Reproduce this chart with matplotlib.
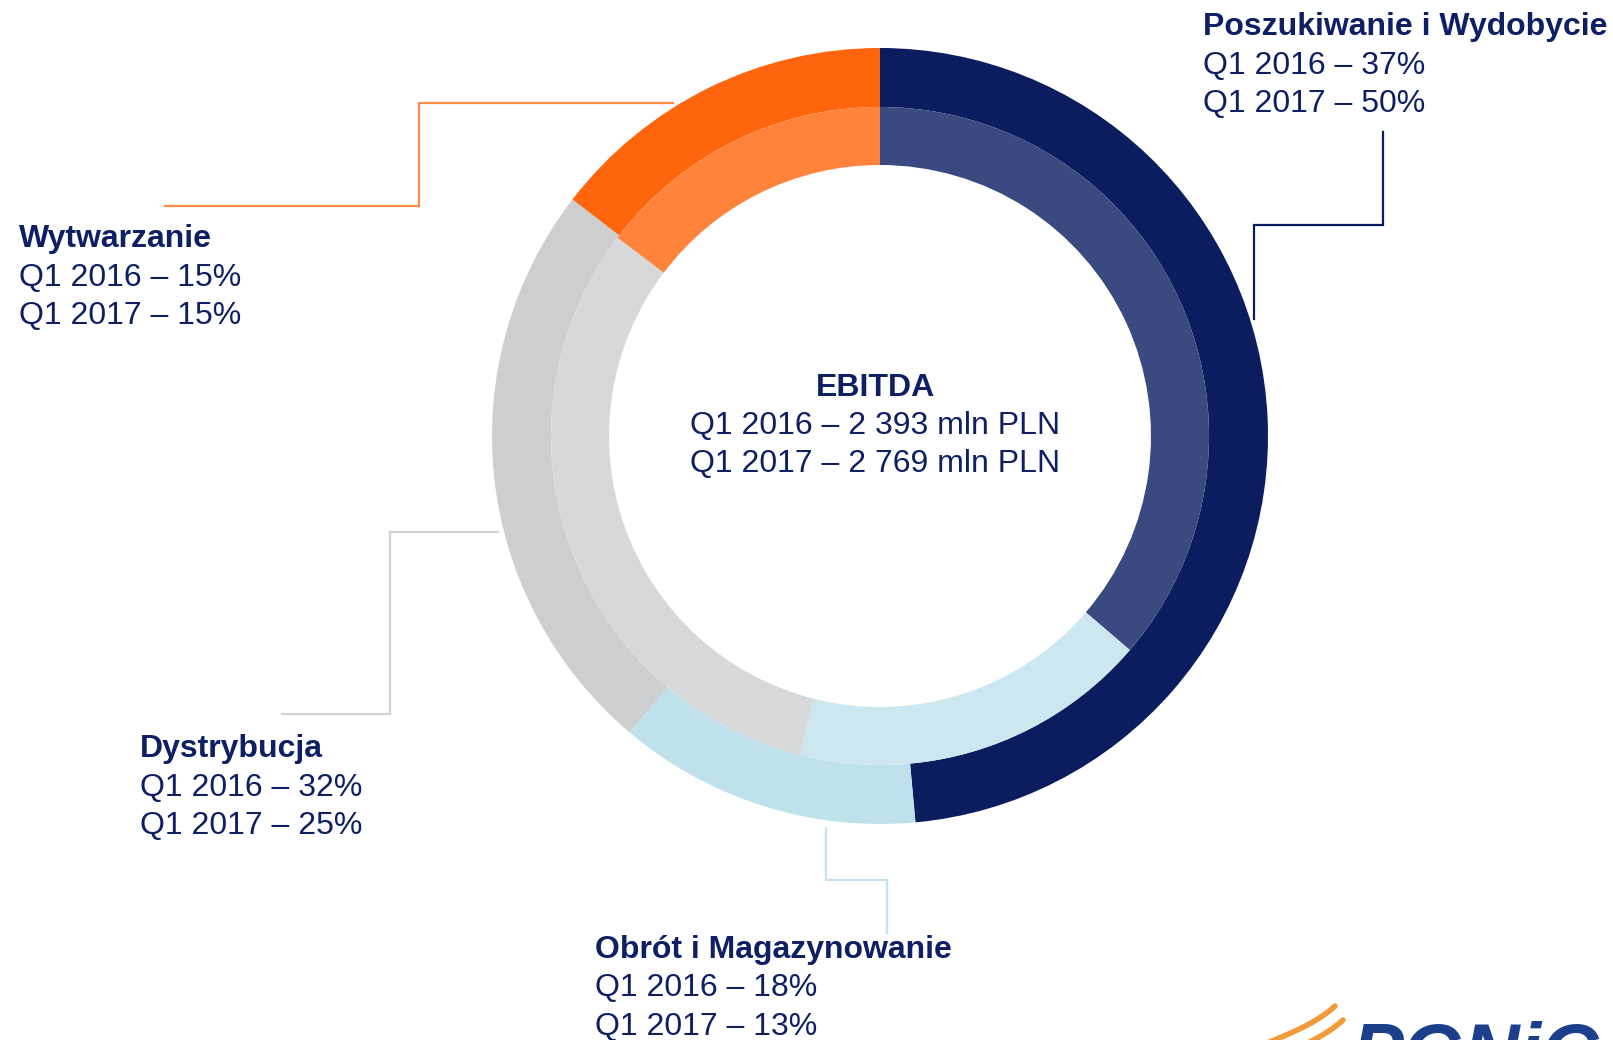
import matplotlib.pyplot as plt
from matplotlib.path import Path
import matplotlib.patches as mpatches

plt.rcParams["font.family"] = ["Liberation Sans", "DejaVu Sans"]

# ── Data ────────────────────────────────────────────────────────────────────
SEGMENTS = ["Poszukiwanie i Wydobycie", "Obrót i Magazynowanie", "Dystrybucja", "Wytwarzanie"]
Q1_2016 = [37, 18, 32, 15]   # inner ring
Q1_2017 = [50, 13, 25, 15]   # outer ring
EBITDA_2016 = "2 393"
EBITDA_2017 = "2 769"

# ── Palette ─────────────────────────────────────────────────────────────────
TEXT_NAVY = "#0E1F63"
OUTER_COLORS = ["#0B1D5F", "#BEE1EC", "#CDCED0", "#FF650D"]
INNER_COLORS = ["#3A4980", "#CCE7EF", "#D7D8DA", "#FF833A"]
LINE_COLORS = ["#0B1D5F", "#C3E3EE", "#D2D2D4", "#FF8B45"]

W, H = 1613, 1040
fig = plt.figure(figsize=(W / 100, H / 100), dpi=100, facecolor="white")
ax = fig.add_axes([0, 0, 1, 1])

def fy(y):
    # pixel row from top -> data y
    return H - y

CX, CY = 880, fy(436)
R_OUT, R_MID, R_IN = 388, 329, 271

ax.pie(Q1_2017, radius=R_OUT, center=(CX, CY), startangle=90, counterclock=False,
       colors=OUTER_COLORS, wedgeprops={"width": R_OUT - R_MID, "linewidth": 0})
ax.pie(Q1_2016, radius=R_MID, center=(CX, CY), startangle=90, counterclock=False,
       colors=INNER_COLORS, wedgeprops={"width": R_MID - R_IN, "linewidth": 0})

# ── Connector lines ─────────────────────────────────────────────────────────
connectors = [
    [(1254, 319), (1254, 225), (1383, 225), (1383, 132)],
    [(826, 828), (826, 880), (887, 880), (887, 933)],
    [(498, 532), (390, 532), (390, 714), (282, 714)],
    [(673, 103), (419, 103), (419, 206), (165, 206)],
]
for pts, col in zip(connectors, LINE_COLORS):
    ax.plot([p[0] for p in pts], [fy(p[1]) for p in pts], color=col, lw=1.6,
            solid_joinstyle="miter")

# ── Labels ──────────────────────────────────────────────────────────────────
label_pos = [(1203, 27), (595, 950), (140, 749), (19, 239)]
STEP = 38.5
FS = 23
for name, v16, v17, (x, y) in zip(SEGMENTS, Q1_2016, Q1_2017, label_pos):
    ax.text(x, fy(y), name, fontsize=FS, fontweight="bold", color=TEXT_NAVY,
            ha="left", va="center")
    ax.text(x, fy(y + STEP), f"Q1 2016 – {v16}%", fontsize=FS, color=TEXT_NAVY,
            ha="left", va="center")
    ax.text(x, fy(y + 2 * STEP), f"Q1 2017 – {v17}%", fontsize=FS, color=TEXT_NAVY,
            ha="left", va="center")

ax.text(875, fy(388), "EBITDA", fontsize=FS, fontweight="bold", color=TEXT_NAVY,
        ha="center", va="center")
ax.text(875, fy(426), f"Q1 2016 – {EBITDA_2016} mln PLN", fontsize=FS, color=TEXT_NAVY,
        ha="center", va="center")
ax.text(875, fy(464), f"Q1 2017 – {EBITDA_2017} mln PLN", fontsize=FS, color=TEXT_NAVY,
        ha="center", va="center")

# ── Logo (cut off at bottom edge, as in the source slide) ───────────────────
ax.text(1352, fy(1078), "PGNiG", fontsize=56, fontweight="bold", fontstyle="italic",
        color="#1C3F8C", ha="left", va="baseline")
for dx, dy in [(0, 0), (8, 14)]:
    verts = [(1262 + dx, fy(1045 + dy)), (1300 + dx, fy(1030 + dy)),
             (1320 + dx, fy(1020 + dy)), (1335 + dx, fy(1006 + dy))]
    path = Path(verts, [Path.MOVETO, Path.CURVE4, Path.CURVE4, Path.CURVE4])
    ax.add_patch(mpatches.PathPatch(path, fill=False, color="#F39A3B", lw=4,
                                    capstyle="round"))

ax.set_xlim(0, W)
ax.set_ylim(0, H)
ax.set_aspect("equal")
ax.axis("off")

fig.savefig("out.png", dpi=100, facecolor="white")
